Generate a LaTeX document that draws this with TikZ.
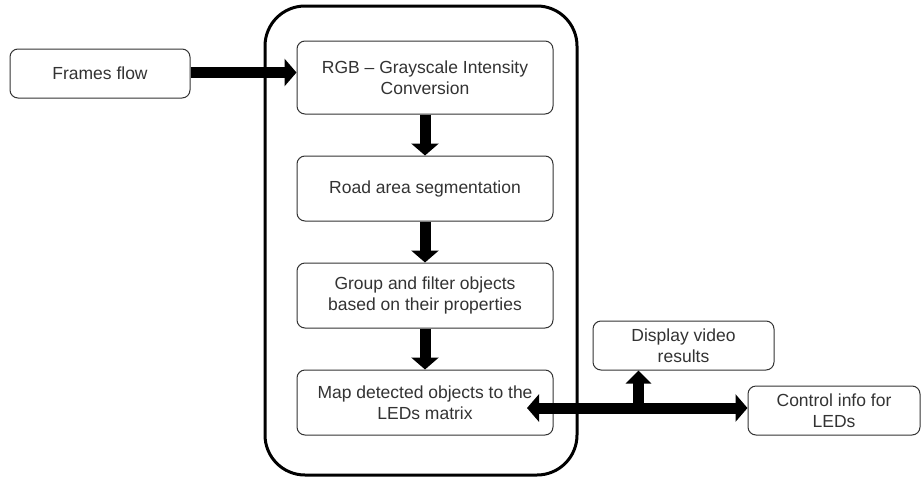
\documentclass[tikz,border=0pt]{standalone}
\usepackage{fontspec}
\setmainfont{Liberation Sans}
\usetikzlibrary{arrows.meta}
\definecolor{txt}{HTML}{333333}
\begin{document}
\begin{tikzpicture}[x=1pt,y=-1pt,
  box/.style={draw=txt,line width=1pt,rounded corners=8pt,fill=white,
    text=txt,align=center,inner sep=0pt,
    font=\fontsize{17.5}{21}\selectfont},
  fat/.style={line width=11pt,black,-{Triangle[width=27pt,length=12pt]}},
  fatboth/.style={line width=11pt,black,{Triangle[width=27pt,length=12pt]}-{Triangle[width=27pt,length=12pt]}}]
\useasboundingbox (0,0) rectangle (921,477);
% container
\draw[line width=3pt,rounded corners=40pt] (265,6) rectangle (577,475);
% boxes
\node[box,minimum width=180pt,minimum height=49pt] (frames) at (100,73.5) {Frames flow};
\node[box,minimum width=256pt,minimum height=73pt] (rgb) at (425,77.5) {RGB -- Grayscale Intensity\\Conversion};
\node[box,minimum width=256pt,minimum height=65pt] (road) at (425,188.5) {Road area segmentation};
\node[box,minimum width=256pt,minimum height=65pt] (group) at (425,295.5) {Group and filter objects\\based on their properties};
\node[box,minimum width=256pt,minimum height=65pt] (map) at (425,402.5) {Map detected objects to the\\LEDs matrix};
\node[box,minimum width=181pt,minimum height=49pt] (display) at (683.5,345.5) {Display video\\results};
\node[box,minimum width=172pt,minimum height=49pt] (control) at (834,410.5) {Control info for\\LEDs};
% arrows
\draw[fat] (frames.east |- 0,72.5) -- (rgb.west |- 0,72.5);
\draw[fat] (rgb.south) -- (road.north);
\draw[fat] (road.south) -- (group.north);
\draw[fat] (group.south) -- (map.north);
\coordinate (ltip) at (527,408);
\coordinate (junc) at (638.5,408);
\draw[fatboth] (ltip) -- (ltip -| control.west);
\draw[line width=11pt,black,-{Triangle[width=25pt,length=13pt]}] (junc) -- (junc |- display.south);
\end{tikzpicture}
\end{document}
